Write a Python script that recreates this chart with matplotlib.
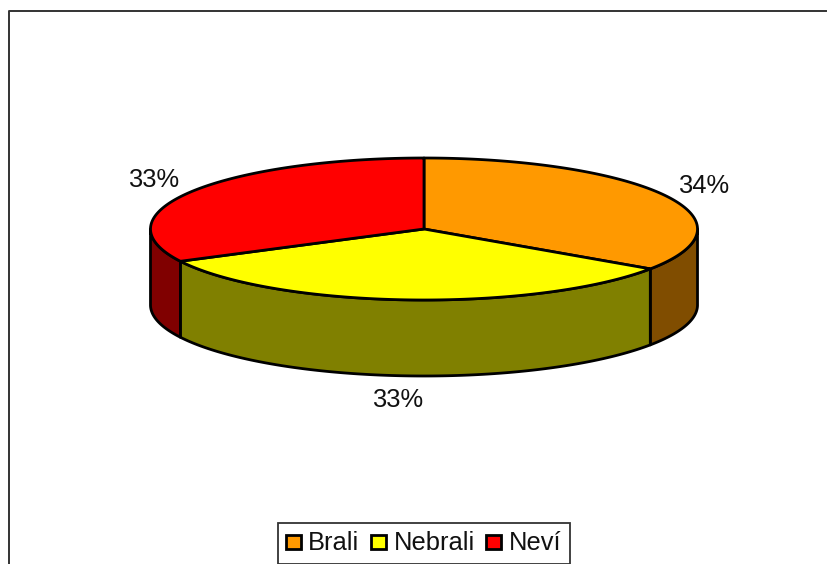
import numpy as np
import matplotlib
matplotlib.use("Agg")
import matplotlib.pyplot as plt
from matplotlib.patches import Polygon, Rectangle

categories = ["Brali", "Nebrali", "Neví"]
values = [34.49, 33.0, 32.51]
pct_labels = ["34%", "33%", "33%"]
top_colors = ["#FF9900", "#FFFF00", "#FF0000"]
side_colors = ["#804D00", "#808000", "#800000"]

W, H = 827, 564
plt.rcParams['font.family'] = ['Liberation Sans', 'DejaVu Sans']
fig = plt.figure(figsize=(W/100, H/100), dpi=100, facecolor="white")
ax = fig.add_axes([0, 0, 1, 1])
ax.set_xlim(0, W); ax.set_ylim(H, 0); ax.axis("off")

# chart frame (open at the bottom where the image is cropped)
ax.plot([8.5, 8.5, 826], [H, 10.5, 10.5], color="#333333", lw=1.4, clip_on=False)

cx, cy, a, b, depth = 424, 229, 273.5, 71, 76
lw = 2.0

def top_pt(t):
    return cx + a*np.sin(t), cy - b*np.cos(t)

edges = np.cumsum([0] + values) / sum(values) * 2*np.pi

# side walls: only the front half (pi/2 .. 3pi/2) is visible
for i in range(len(values)):
    lo, hi = max(edges[i], np.pi/2), min(edges[i+1], 3*np.pi/2)
    if lo >= hi:
        continue
    t = np.linspace(lo, hi, 200)
    x, y = top_pt(t)
    pts = np.r_[np.c_[x, y], np.c_[x[::-1], y[::-1] + depth]]
    ax.add_patch(Polygon(pts, closed=True, fc=side_colors[i], ec="black", lw=lw, joinstyle="round", zorder=2))

# top slices
for i in range(len(values)):
    t = np.linspace(edges[i], edges[i+1], 300)
    x, y = top_pt(t)
    pts = np.r_[[[cx, cy]], np.c_[x, y]]
    ax.add_patch(Polygon(pts, closed=True, fc=top_colors[i], ec="black", lw=lw, joinstyle="round", zorder=3))

# percentage labels
label_pos = [(703.5, 186), (398, 400), (153.5, 180)]
for s, (x, y) in zip(pct_labels, label_pos):
    ax.text(x, y, s, fontsize=18.4, ha="center", va="center", color="#111111")

# legend
ax.add_patch(Rectangle((277.5, 522.5), 292, 41, fc="white", ec="#333333", lw=1.3, zorder=4))
swatch_x = [286, 371, 486]
text_x = [308, 394, 509]
for name, c, sx, tx in zip(categories, top_colors, swatch_x, text_x):
    ax.add_patch(Rectangle((sx, 535), 15, 14, fc=c, ec="black", lw=2.0, zorder=5))
    ax.text(tx, 543.5, name, fontsize=18.4, ha="left", va="center", color="#111111", zorder=5)

fig.savefig("out.png", dpi=100)
